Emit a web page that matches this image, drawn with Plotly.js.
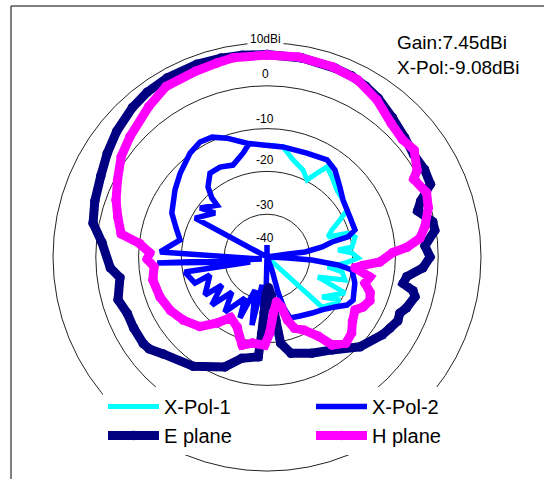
<!DOCTYPE html>
<html><head><meta charset="utf-8">
<script src="https://cdn.plot.ly/plotly-3.0.1.min.js"></script>
<style>html,body{margin:0;padding:0;background:#fff;}#chart{width:544px;height:479px;}</style>
</head><body><div id="chart"></div>
<script>
// ---- data (angle in degrees clockwise from top, level in dBi) ----
const xpol1Theta = [0, 8.3, 15.0, 22.5, 27.5, 30.8, 33.7, 39.1, 46.3, 53.1, 59.6, 63.1, 67.4, 71.8, 73.5, 77.2, 83.3, 84.4, 87.3, 90.6, 94.4, 99.3, 101.3, 106.4, 111.4, 113.8, 114.8, 126, 120.5, 127.3, 132.3, 140];
const xpol1Db    = [-13.8, -14.0, -16.5, -18.0, -19.7, -17.2, -14.7, -15.9, -17.4, -17.8, -18.3, -20.9, -23.6, -25.0, -20.3, -18.9, -20.0, -23.3, -20.1, -18.7, -21.7, -25.6, -22.1, -21.0, -27.2, -22.6, -19.9, -24.1, -20.2, -21.5, -22.6, -40];

const xpol2Theta = [85, 81.9, 82.5, 79.7, 77.0, 76.1, 72.9, 64.3, 53.1, 46.2, 38.0, 31.7, 21.0, 8.3, 358.0, 350, 341.4, 335.4, 329.8, 323.5, 314, 306.1, 294.8, 287.7, 281.1, 272.7, 248, 266.9, 253.6, 259.6, 250.1, 252.5, 238.5, 238.1, 228.9, 225, 217.4, 208.2, 203.9, 200, 192.4, 190.1, 182.4, 181.5, 175, 159, 162.6, 161.6, 159.3, 150.8, 141.2, 133.9, 126.3, 121.0, 116.6, 106.5, 98.7, 96.4, 93.8, 92.7, 0, 0, 300, 298.4, 310.2, 306.2, 316.1, 317, 319.9, 325.8, 332.4, 339.7, 347, 350.4];
const xpol2Db    = [-40, -35.0, -31.0, -26.9, -24.4, -20.5, -18.5, -18.5, -17.8, -16.4, -14.2, -13.3, -14.0, -14.0, -13.8, -13.0, -10.7, -9.2, -8.9, -9.8, -11.8, -13.4, -15.5, -17.7, -19.3, -15.0, -38.7, -14.3, -35.9, -20.5, -22.1, -26.0, -23.0, -27.6, -22.9, -28.4, -23.8, -29.1, -24.4, -31.8, -23.7, -33.4, -22.9, -31.1, -40, -36.8, -31.4, -27.4, -24.8, -24.2, -23.2, -22.2, -20.3, -18.2, -17.5, -18.6, -19.9, -23.3, -29.5, -35.1, -40, -37.2, -40, -20.9, -24.1, -20.6, -23.2, -21.1, -18.6, -16.3, -16.3, -17.1, -15.1, -13.5];

const eTheta = [0, 10, 20, 25, 30, 35, 42, 49, 55, 61, 66, 70, 73, 78, 81, 86, 90, 94, 98, 101, 103, 105, 110, 113, 116, 120, 124, 134, 145, 155, 166, 171, 172, 173.5, 177, 181, 183, 184, 185, 194, 201, 214, 227, 232, 235, 242, 248, 254, 262, 266, 275, 281, 288, 296, 303, 310, 318, 324, 331, 340, 347, 353, 360];
const eDb    = [7.3, 7.2, 6.9, 6.7, 6.1, 5.3, 3.8, 2.6, 1.8, 2.1, 1.8, -1.8, -3.2, -0.4, -0.3, -3.0, -1.9, -3.5, -7.0, -7.6, -5.0, -4.2, -5.3, -6.3, -6.0, -6.8, -7.5, -9.8, -13.5, -15.2, -16.8, -19.6, -25, -31, -32.8, -31.5, -27, -22, -16.6, -15.6, -12.5, -9.2, -6.8, -5.1, -4.7, -4.7, -4.8, -3.8, -5.3, -3.3, -1.3, 1.4, 2.3, 3.2, 4.5, 5.8, 7.0, 7.6, 7.9, 7.9, 7.7, 7.5, 7.3];

const hTheta = [0, 9, 19, 27, 35, 43, 49, 54, 60, 62, 68, 73, 79, 83, 86, 88, 92.5, 95, 97, 101, 105, 109, 113, 117.5, 121, 127, 132, 137.5, 143.5, 147, 153, 159, 162, 164, 168, 173.5, 178, 181.5, 189.5, 195.7, 199, 203, 211, 217, 224, 233, 241, 249.5, 258.6, 265, 269, 272, 276, 279, 285, 290.7, 297.3, 304.5, 311.2, 321.8, 329.4, 339, 345.5, 350.4, 360];
const hDb    = [7.2, 7.3, 7.0, 6.5, 4.8, 2.6, 1.9, 2.5, 0.5, -1.2, 0.2, -0.6, -2.4, -4.0, -7.2, -10.6, -13.6, -17.5, -19.3, -15.5, -16.3, -14.5, -13.9, -14.7, -16.0, -15.0, -13.4, -12.7, -14.4, -17.9, -20.8, -22.2, -24.5, -27.9, -29.3, -26.8, -22.2, -19.4, -19.6, -18.6, -20.3, -22.2, -23.5, -20.7, -17.4, -15.5, -14.2, -13.3, -12.8, -13.5, -12.0, -12.6, -10.1, -5.5, -3.9, -2.3, -0.7, 1.35, 2.6, 4.7, 6.3, 6.5, 6.8, 7.2, 7.2];

const seriesNames = ['X-Pol-1', 'X-Pol-2', 'E plane', 'H plane'];
const ringValues = [-40, -30, -20, -10, 0, 10];
const ringLabels = ['-40', '-30', '-20', '-10', '0', '10dBi'];
const infoLines = ['Gain:7.45dBi', 'X-Pol:-9.08dBi'];

// ---- layout geometry ----
const W = 544, H = 479;
const cx = 267, cy = 257, R = 214;
const rMin = -40, rMax = 10;
const pxPerDb = R / (rMax - rMin);
const labelLift = [19, 9, 11, 10, 12, 4];
const font = 'Liberation Sans, Arial, sans-serif';

function px2x(p) { return p / W; }
function px2y(p) { return 1 - p / H; }

const traces = [
  {type: 'scatterpolar', name: seriesNames[0], theta: xpol1Theta, r: xpol1Db, mode: 'lines',
   line: {color: '#00ffff', width: 5}},
  {type: 'scatterpolar', name: seriesNames[1], theta: xpol2Theta, r: xpol2Db, mode: 'lines',
   line: {color: '#0000ff', width: 5.5}},
  {type: 'scatterpolar', name: seriesNames[2], theta: eTheta, r: eDb, mode: 'lines+markers',
   line: {color: '#000080', width: 9}, marker: {color: '#000080', size: 9.5}},
  {type: 'scatterpolar', name: seriesNames[3], theta: hTheta, r: hDb, mode: 'lines+markers',
   line: {color: '#ff00ff', width: 9}, marker: {color: '#ff00ff', size: 9.5}}
];

const annotations = ringValues.map((v, i) => ({
  xref: 'paper', yref: 'paper',
  x: px2x(cx - 2), y: px2y(cy - (v - rMin) * pxPerDb - labelLift[i]),
  xanchor: 'center', yanchor: 'middle', showarrow: false,
  text: ringLabels[i], font: {family: font, size: 12, color: '#000'},
  bgcolor: i === ringValues.length - 1 ? '#fff' : 'rgba(0,0,0,0)', borderpad: 2
}));
infoLines.forEach((t, i) => annotations.push({
  xref: 'paper', yref: 'paper', x: px2x(395), y: px2y(43 + i * 25),
  xanchor: 'left', yanchor: 'middle', showarrow: false, text: t,
  font: {family: font, size: 19, color: '#000'}
}));

const layout = {
  width: W, height: H,
  margin: {l: 0, r: 0, t: 0, b: 0, pad: 0},
  paper_bgcolor: '#fff',
  showlegend: true,
  polar: {
    domain: {x: [px2x(cx - R), px2x(cx + R)], y: [px2y(cy + R), px2y(cy - R)]},
    bgcolor: '#fff',
    radialaxis: {range: [rMin, rMax], tickvals: [-30, -20, -10, 0], showticklabels: false, ticks: '',
                 showline: false, gridcolor: '#222', gridwidth: 1, angle: 90},
    angularaxis: {rotation: 90, direction: 'clockwise', showgrid: false, showticklabels: false,
                  ticks: '', showline: true, linecolor: '#222', linewidth: 1}
  },
  legend: {orientation: 'h', x: px2x(103), xanchor: 'left', y: px2y(387), yanchor: 'top',
           bgcolor: '#fff', borderwidth: 0, font: {family: font, size: 20, color: '#000'},
           entrywidth: 142, entrywidthmode: 'pixels', itemwidth: 51, traceorder: 'normal'},
  annotations: annotations,
  shapes: [{type: 'rect', xref: 'paper', yref: 'paper', x0: px2x(11), y0: px2y(6), x1: 1.2, y1: -0.2,
            line: {color: '#000', width: 1}, fillcolor: 'rgba(0,0,0,0)', layer: 'above'}]
};

Plotly.newPlot('chart', traces, layout, {staticPlot: true, displayModeBar: false});
</script></body></html>
